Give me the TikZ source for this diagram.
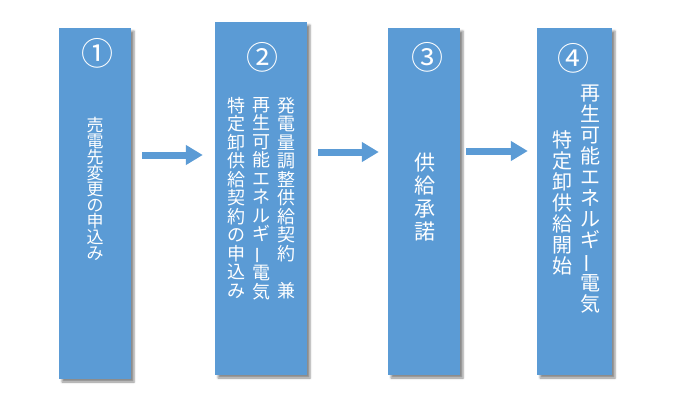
\documentclass[tikz,border=0pt]{standalone}
\usepackage{fontspec}
\usepackage{graphicx}
\setmainfont{Noto Sans CJK JP}
\usetikzlibrary{arrows.meta,shadows.blur}
\definecolor{stepblue}{HTML}{5B9BD5}
\newcommand{\tatebou}{\rotatebox[origin=c]{90}{ー}}

\begin{document}
\begin{tikzpicture}[x=1pt, y=-1pt,
  stepbox/.style={fill=stepblue, draw=none, inner sep=0pt,
    blur shadow={shadow xshift=3pt, shadow yshift=-3pt, shadow blur radius=2pt, shadow opacity=45}},
  num/.style={text=white, font=\fontsize{32}{32}\selectfont, inner sep=0pt},
  coltext/.style={text=white, align=center, inner sep=0pt},
  flow/.style={draw=stepblue, line width=7pt, -{Triangle[length=17pt, width=19pt]}}]
  \useasboundingbox (0,0) rectangle (682,417);

  % boxes
  \node[stepbox, minimum width=72pt, minimum height=351pt] (b1) at (95,203.5) {};
  \node[stepbox, minimum width=92pt, minimum height=353pt] (b2) at (261,198.5) {};
  \node[stepbox, minimum width=72pt, minimum height=347pt] (b3) at (424,201.5) {};
  \node[stepbox, minimum width=75pt, minimum height=347pt] (b4) at (574.5,201.5) {};

  % numbers
  \node[num] (n1) at (97,53) {①};
  \node[num] (n2) at (262,57) {②};
  \node[num] (n3) at (427,57) {③};
  \node[num] (n4) at (573,58) {④};

  % step 1
  \node[coltext, font=\fontsize{17}{16}\selectfont] (t1) at (95,189)
    {売\\電\\先\\変\\更\\の\\申\\込\\み};

  % step 2
  \node[coltext, anchor=north, font=\fontsize{18}{18.5}\selectfont] (t2a) at (286,97)
    {発\\電\\量\\調\\整\\供\\給\\契\\約\\　\\兼};
  \node[coltext, anchor=north, font=\fontsize{18}{18.5}\selectfont] (t2b) at (261,97)
    {再\\生\\可\\能\\エ\\ネ\\ル\\ギ\\\tatebou\\電\\気};
  \node[coltext, anchor=north, font=\fontsize{18}{18.5}\selectfont] (t2c) at (236,97)
    {特\\定\\卸\\供\\給\\契\\約\\の\\申\\込\\み};

  % step 3
  \node[coltext, font=\fontsize{21}{23}\selectfont] (t3) at (425,197.5)
    {供\\給\\承\\諾};

  % step 4
  \node[coltext, font=\fontsize{20}{21}\selectfont] (t4a) at (590,199)
    {再\\生\\可\\能\\エ\\ネ\\ル\\ギ\\\tatebou\\電\\気};
  \node[coltext, font=\fontsize{20}{21}\selectfont] (t4b) at (562,202.5)
    {特\\定\\卸\\供\\給\\開\\始};

  % arrows
  \draw[flow, shorten <=11pt, shorten >=12pt] (b1.east |- 0,155) -- (b2.west |- 0,155);
  \draw[flow, shorten <=11pt, shorten >=9pt] (b2.east |- 0,152) -- (b3.west |- 0,152);
  \draw[flow, shorten <=6pt, shorten >=9pt] (b3.east |- 0,151) -- (b4.west |- 0,151);
\end{tikzpicture}
\end{document}
